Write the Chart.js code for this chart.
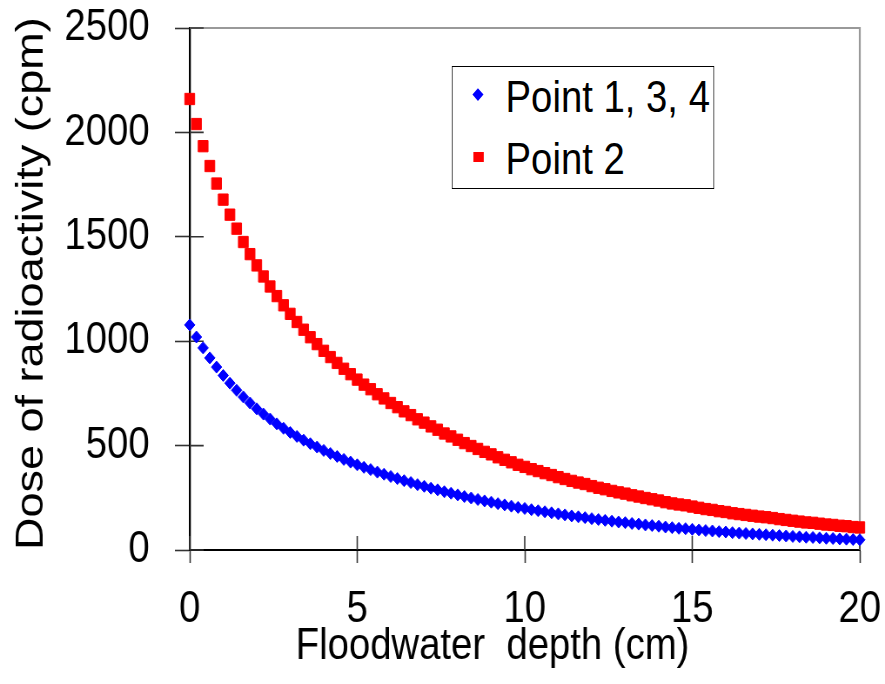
<!DOCTYPE html>
<html>
<head>
<meta charset="utf-8">
<title>Dose of radioactivity vs floodwater depth</title>
<script src="https://cdn.jsdelivr.net/npm/chart.js@4.4.1/dist/chart.umd.min.js"></script>
<style>
  html, body { margin: 0; padding: 0; background: #fff; overflow: hidden; }
  /* the original picture is squeezed sideways, so the whole chart is drawn wider and scaled down */
  #wrap { position: relative; width: 1017px; height: 684px; transform: scaleX(0.8702); transform-origin: 0 0; }
  #legend {
    position: absolute; left: 519px; top: 66px; width: 302px; height: 123px;
    box-sizing: border-box; border: 1.7px solid #000; background: #fff;
    font-family: "Liberation Sans", Arial, sans-serif;
    font-size: 44px; line-height: 54px; color: #000;
  }
  .item { position: absolute; left: 61px; white-space: nowrap; }
  .mark { position: absolute; }
</style>
</head>
<body>
<div id="wrap">
  <canvas id="doseChart" width="1017" height="684"></canvas>
  <div id="legend">
    <div class="mark" style="left:25px;top:23px;width:8.5px;height:8.5px;background:#0000ff;transform:rotate(45deg);"></div>
    <div class="item" style="top:3px;">Point 1, 3, 4</div>
    <div class="mark" style="left:24px;top:85px;width:11.5px;height:10px;background:#ff0000;"></div>
    <div class="item" style="top:65px;">Point 2</div>
  </div>
</div>
<script>
// Floodwater depth (cm), one reading every 0.2 cm
var depthStart = 0;
var depthStep = 0.2;

// Dose of radioactivity (cpm)
var point134 = [
    1078, 1020, 968, 920, 876, 836, 799, 765, 733, 704,
    676, 651, 627, 604, 583, 563, 544, 526, 509, 493,
    477, 462, 448, 434, 421, 408, 396, 385, 373, 363,
    352, 342, 332, 323, 313, 305, 296, 288, 279, 272,
    264, 256, 249, 242, 235, 229, 222, 216, 210, 204,
    199, 193, 188, 183, 178, 173, 168, 163, 159, 155,
    150, 146, 142, 138, 134, 131, 127, 124, 120, 117,
    114, 110, 107, 104, 102, 99, 96, 93, 91, 88,
    86, 83, 81, 79, 77, 75, 73, 71, 69, 67,
    65, 63, 61, 60, 58, 56, 55, 53, 52, 50,
    49
];
var point2 = [
    2160, 2040, 1934, 1839, 1755, 1678, 1606, 1539, 1475, 1417,
    1363, 1310, 1262, 1216, 1172, 1131, 1092, 1055, 1019, 986,
    954, 924, 896, 868, 842, 816, 792, 770, 746, 726,
    704, 684, 664, 646, 626, 610, 592, 576, 558, 544,
    528, 512, 498, 484, 470, 458, 444, 432, 420, 408,
    398, 387, 378, 368, 359, 349, 340, 331, 323, 316,
    306, 298, 291, 283, 276, 270, 262, 256, 249, 243,
    237, 229, 223, 218, 214, 208, 202, 196, 192, 186,
    182, 176, 172, 168, 164, 160, 157, 153, 148, 144,
    140, 136, 132, 130, 126, 122, 120, 116, 114, 110,
    108
];

var seriesNames = ['Point 1, 3, 4', 'Point 2'];
var xTicks = [0, 5, 10, 15, 20];
var yTicks = [0, 500, 1000, 1500, 2000, 2500];
var xTitle = 'Floodwater  depth (cm)';
var yTitle = 'Dose of radioactivity (cpm)';

// pair each reading with its depth
function toPoints(values) {
    return values.map(function(v, i) {
        return { x: Math.round((depthStart + i * depthStep) * 10) / 10, y: v };
    });
}

var fontFamily = '"Liberation Sans", Arial, sans-serif';

// ticks that cross the axis line, the grey frame on top and right, and the x title
var frameAndTicks = {
    id: 'frameAndTicks',
    beforeDatasetsDraw: function(chart) {
        var ctx = chart.ctx;
        var area = chart.chartArea;
        var xs = chart.scales.x, ys = chart.scales.y;
        ctx.save();
        ctx.strokeStyle = '#999999';
        ctx.lineWidth = 2.2;
        ctx.beginPath();
        ctx.moveTo(area.left, area.top);
        ctx.lineTo(area.right, area.top);
        ctx.lineTo(area.right, area.bottom);
        ctx.stroke();

        ctx.strokeStyle = '#333333';
        ctx.lineWidth = 1.6;
        ctx.beginPath();
        xTicks.forEach(function(t) {
            var px = xs.getPixelForValue(t);
            ctx.moveTo(px, area.bottom);
            ctx.lineTo(px, area.bottom - 14);
        });
        yTicks.forEach(function(t) {
            var py = ys.getPixelForValue(t);
            ctx.moveTo(area.left, py);
            ctx.lineTo(area.left + 16, py);
        });
        ctx.stroke();

        ctx.fillStyle = '#000';
        ctx.font = '44px ' + fontFamily;
        ctx.textAlign = 'center';
        ctx.textBaseline = 'middle';
        ctx.fillText(xTitle, (area.left + area.right) / 2 - 37, 647);
        ctx.restore();
    }
};

var ctx = document.getElementById('doseChart').getContext('2d');
var doseChart = new Chart(ctx, {
    type: 'scatter',
    data: {
        datasets: [{
            label: seriesNames[0],
            data: toPoints(point134),
            pointStyle: 'rectRot',
            pointRadius: 6,
            pointBorderWidth: 1,
            backgroundColor: '#0000ff',
            borderColor: '#0000ff',
            clip: false
        }, {
            label: seriesNames[1],
            data: toPoints(point2),
            pointStyle: 'rect',
            pointRadius: 8,
            pointBorderWidth: 1,
            backgroundColor: '#ff0000',
            borderColor: '#ff0000',
            clip: false
        }]
    },
    options: {
        responsive: false,
        animation: false,
        events: [],
        layout: { padding: { top: 28, right: 29, left: 0, bottom: 0 } },
        plugins: {
            legend: { display: false },
            tooltip: { enabled: false }
        },
        scales: {
            x: {
                type: 'linear',
                min: 0,
                max: 20,
                afterFit: function(scale) {
                    scale.height = 134;
                    scale.paddingLeft = 0;
                    scale.paddingRight = 0;
                },
                afterBuildTicks: function(scale) {
                    scale.ticks = xTicks.map(function(v) { return { value: v }; });
                },
                border: { display: true, color: '#000', width: 2 },
                grid: { drawOnChartArea: false, drawTicks: true, tickLength: 13, tickColor: '#333', tickWidth: 1.6 },
                ticks: {
                    color: '#000', padding: 20, maxRotation: 0,
                    font: { family: fontFamily, size: 44 },
                    callback: function(v) { return String(v); }
                }
            },
            y: {
                type: 'linear',
                min: 0,
                max: 2500,
                afterFit: function(scale) {
                    scale.width = 218;
                    scale.paddingTop = 0;
                    scale.paddingBottom = 0;
                },
                afterBuildTicks: function(scale) {
                    scale.ticks = yTicks.map(function(v) { return { value: v }; });
                },
                border: { display: true, color: '#000', width: 2.3 },
                grid: { drawOnChartArea: false, drawTicks: true, tickLength: 17, tickColor: '#333', tickWidth: 1.6 },
                ticks: {
                    color: '#000', padding: 29,
                    font: { family: fontFamily, size: 44 },
                    callback: function(v) { return String(v); }
                },
                title: {
                    display: true,
                    text: yTitle,
                    align: 'start',
                    color: '#000',
                    padding: { top: 10, bottom: 0 },
                    font: { family: fontFamily, size: 45 }
                }
            }
        }
    },
    plugins: [frameAndTicks]
});
</script>
</body>
</html>
